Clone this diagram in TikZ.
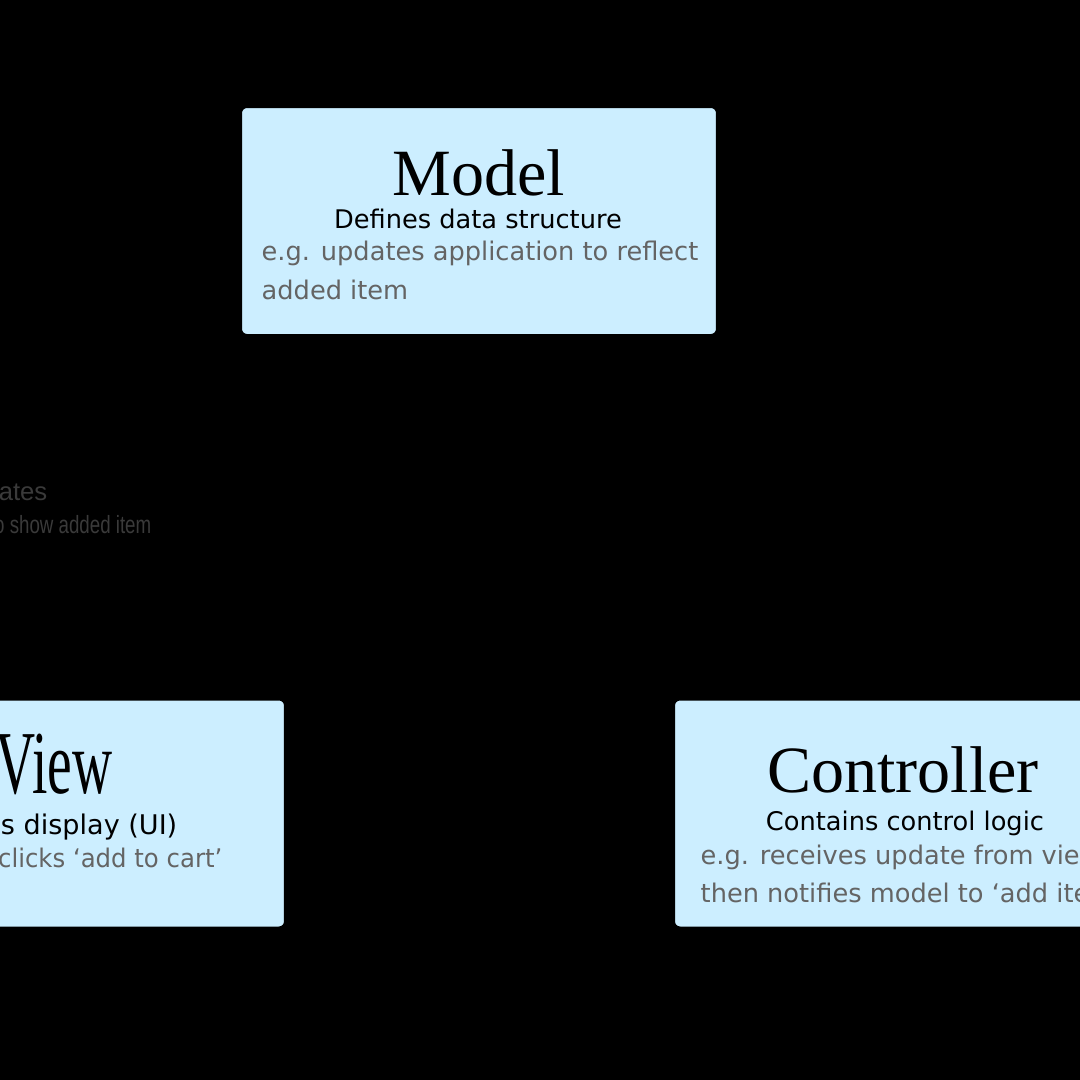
\documentclass[tikz,border=0pt]{standalone}
\usepackage{fontspec}
\setmainfont{Liberation Serif}
\newfontfamily\boxfont{DejaVu Sans}
\newfontfamily\lblfont{Liberation Sans}
\usetikzlibrary{arrows.meta}
\definecolor{boxblue}{HTML}{CCEEFF}
\definecolor{txtgray}{HTML}{646464}
\definecolor{lblgray}{HTML}{3A3A3A}
\begin{document}
\begin{tikzpicture}[x=0.1mm,y=-0.1mm,
 box/.style={draw=black, line width=0.2mm, fill=boxblue, rounded corners=0.6mm, minimum width=47.6mm, minimum height=22.8mm, inner sep=0pt},
 titletext/.style={font=\fontsize{18.8pt}{20pt}\selectfont, text=black, inner sep=0pt},
 subtext/.style={font=\boxfont\fontsize{7.3pt}{8pt}\selectfont, text=black, inner sep=0pt},
 egtext/.style={font=\boxfont\fontsize{7.3pt}{8pt}\selectfont, text=txtgray, inner sep=0pt},
 lbltext/.style={font=\lblfont\fontsize{8.5pt}{9pt}\selectfont, text=black, inner sep=0pt},
 updtext/.style={font=\lblfont\fontsize{7.3pt}{8pt}\selectfont, text=lblgray, inner sep=0pt},
 arr/.style={draw=black, line width=0.75mm, -{Stealth[length=12mm,width=5mm,inset=1.8mm]}},
]
\useasboundingbox (0,0) rectangle (1080,1080);
\clip (0,0) rectangle (1080,1080);
\fill[black] (0,0) rectangle (1080,1080);

% boxes
\node[box] (model) at (479,221) {};
\node[box] (view) at (47,813.5) {};
\node[box] (ctrl) at (912,813.5) {};

% model texts
\node[titletext, anchor=base] (mtitle) at (479,195) {Model};
\node[subtext, anchor=base] (msub) at (478,228) {Defines data structure};
\node[egtext, anchor=base west] (meg1) at (261,260) {e.g. updates application to reflect};
\node[egtext, anchor=base west] (meg2) at (261,299) {added item};

% view texts
\node[titletext, anchor=base east] (vtitle) at (113,793) {\scalebox{0.84}[1.36]{View}};
\node[subtext, anchor=base east] (vsub) at (178,834) {\fontsize{7.7pt}{8pt}\selectfont Defines display (UI)};
\node[egtext, anchor=base east] (veg) at (223,867) {\scalebox{0.95}[1]{e.g. user clicks ‘add to cart’}};

% controller texts
\node[titletext, anchor=base] (ctitle) at (903,792) {Controller};
\node[subtext, anchor=base] (csub) at (905,830) {Contains control logic};
\node[egtext, anchor=base west] (ceg1) at (700,864) {e.g. receives update from view};
\node[egtext, anchor=base west] (ceg2) at (700,902) {then notifies model to ‘add item’};

% connectors
\draw[arr] ([shift={(41,24)}]model.south west) -- ([shift={(280,-10)}]view.north west);
\draw[arr] ([shift={(182,-12)}]ctrl.north west) -- ([shift={(-51,23)}]model.south east);
\draw[arr] ([shift={(6,-44.5)}]view.east) -- ([shift={(-7,-44.5)}]ctrl.west);
\draw[arr] ([shift={(-6,38.5)}]ctrl.west) -- ([shift={(6,38.5)}]view.east);

% connector labels
\node[updtext, anchor=base east] (upd1) at (48,500) {Updates};
\node[updtext, anchor=base east] (upd2) at (152,533) {\fontsize{7.1pt}{8pt}\selectfont\scalebox{0.75}[1]{e.g. updates view to show added item}};
\node[lbltext, anchor=base] (manip) at (867,517) {Manipulates};
\node[lbltext, anchor=base] (sends) at (478,727) {Sends input from user};
\node[lbltext, anchor=base] (sometimes) at (483,900) {Sometimes updates directly};
\end{tikzpicture}
\end{document}
